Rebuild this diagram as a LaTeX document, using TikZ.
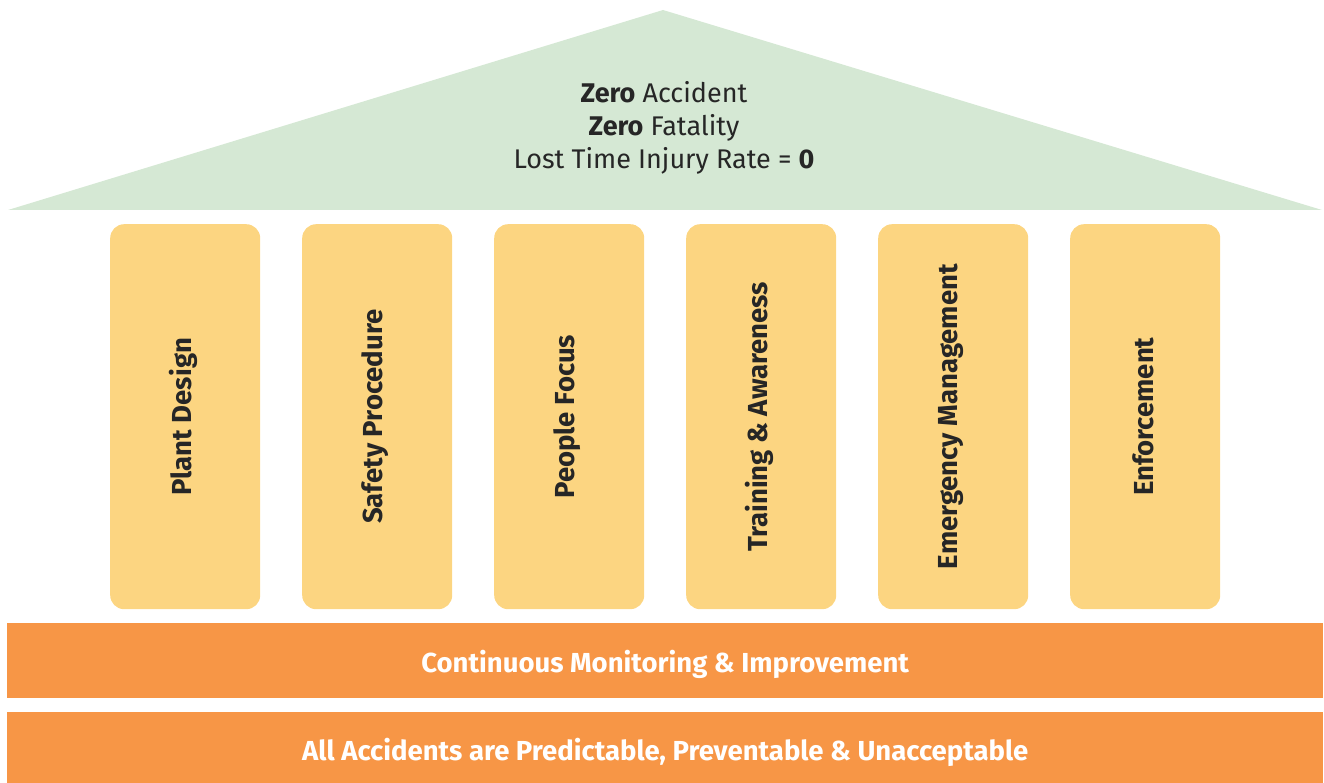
\documentclass[tikz,border=0pt]{standalone}
\usepackage{fontspec}
\setmainfont{Fira Sans}
\definecolor{roofc}{HTML}{D5E8D4}
\definecolor{pillc}{HTML}{FCD581}
\definecolor{barc}{HTML}{F79646}
\definecolor{txtc}{HTML}{262626}
\begin{document}
\begin{tikzpicture}[x=1pt,y=-1pt,
  pillar/.style={fill=pillc,rounded corners=14pt,minimum width=150pt,minimum height=385pt,inner sep=0pt,anchor=north west},
  plabel/.style={rotate=90,font=\fontsize{27.5}{30}\selectfont\bfseries,text=txtc},
  bar/.style={fill=barc,inner sep=0pt,anchor=north west,minimum width=1316pt},
  blabel/.style={text=white,font=\fontsize{27.5}{30}\selectfont\bfseries}]
\useasboundingbox (0,0) rectangle (1324,783);
\fill[roofc] (8,210) -- (663,10) -- (1322,210) -- cycle;
\node[text=txtc,align=center,font=\fontsize{27}{33}\selectfont] (roof) at (664,128) {\textbf{Zero} Accident\\\textbf{Zero} Fatality\\Lost Time Injury Rate = \textbf{0}};
\foreach \i/\t in {0/Plant Design,1/Safety Procedure,2/People Focus,3/Training \& Awareness,4/Emergency Management,5/Enforcement}{
  \node[pillar] (p\i) at (110+192*\i,224) {};
  \node[plabel] (l\i) at ([xshift=-2pt]p\i.center) {\t};
}
\node[bar,minimum height=75pt] (b1) at (7,623) {};
\node[blabel] (t1) at ([yshift=-4pt]b1.center) {Continuous Monitoring \& Improvement};
\node[bar,minimum height=71pt] (b2) at (7,712) {};
\node[blabel] (t2) at ([yshift=-5pt]b2.center) {All Accidents are Predictable, Preventable \& Unacceptable};
\end{tikzpicture}
\end{document}
